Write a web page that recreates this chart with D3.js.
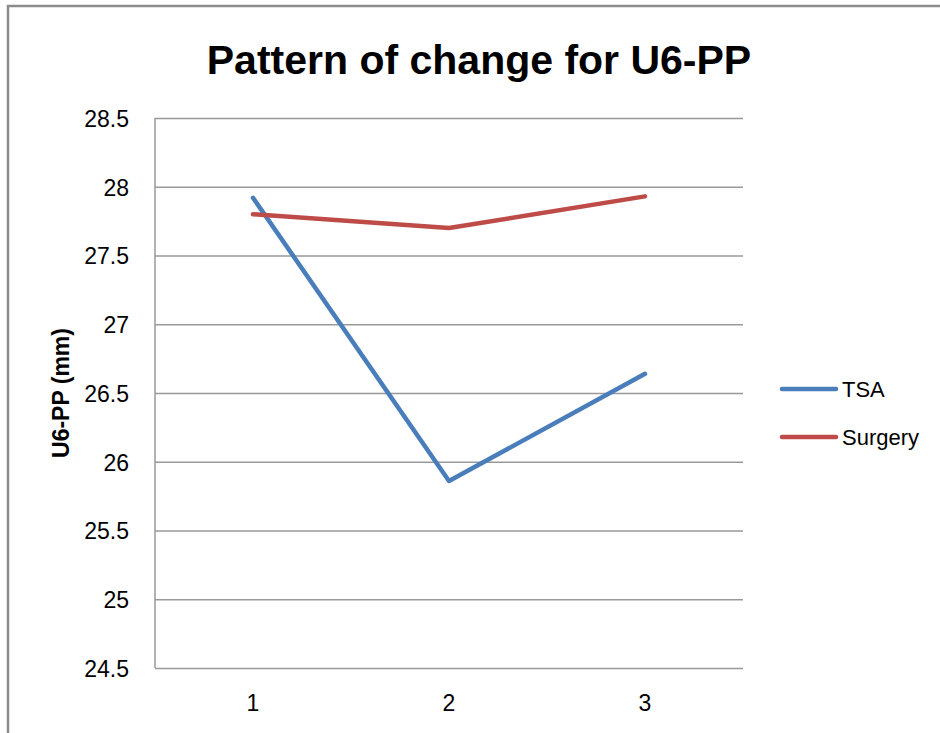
<!DOCTYPE html>
<html lang="en">
<head>
  <meta charset="UTF-8">
  <title>Pattern of change for U6-PP</title>
  <script src="https://d3js.org/d3.v7.min.js"></script>
  <style type="text/css">
    body { margin: 0; background: #fff; }
    text { font-family: "Liberation Sans", Arial, sans-serif; fill: #000; }
    .grid line { stroke: #999; stroke-width: 1.5; }
  </style>
</head>
<body>
<div id="chart-container"></div>
<script>
// data
const categories = ["1", "2", "3"];
const seriesNames = ["TSA", "Surgery"];
const tsaValues = [27.92, 25.86, 26.64];
const surgeryValues = [27.80, 27.70, 27.93];
const yTicks = [24.5, 25, 25.5, 26, 26.5, 27, 27.5, 28, 28.5];
const colors = ["#4A7EBB", "#BE4B48"];

const series = [
  { name: seriesNames[0], values: tsaValues, color: colors[0] },
  { name: seriesNames[1], values: surgeryValues, color: colors[1] }
];

const width = 940, height = 733;
const plot = { left: 155, right: 743, top: 118, bottom: 668 };

const svg = d3.select("#chart-container")
  .append("svg")
  .attr("width", width)
  .attr("height", height);

// outer chart frame
svg.append("rect")
  .attr("x", 8).attr("y", 6)
  .attr("width", 960).attr("height", 760)
  .attr("fill", "none")
  .attr("stroke", "#8c8c8c")
  .attr("stroke-width", 2.5);

var xScale = d3.scalePoint()
  .domain(categories)
  .range([plot.left, plot.right])
  .padding(0.5);

var yScale = d3.scaleLinear()
  .domain([24.5, 28.5])
  .range([plot.bottom, plot.top]);

// horizontal gridlines + y labels
const yAxis = d3.axisLeft(yScale)
  .tickValues(yTicks)
  .tickSize(-(plot.right - plot.left))
  .tickPadding(26)
  .tickFormat(d => d);

svg.append("g")
  .attr("class", "grid")
  .attr("transform", `translate(${plot.left},0)`)
  .call(yAxis)
  .call(g => g.select(".domain").remove())
  .call(g => g.selectAll("text").attr("font-size", 23).attr("dy", "0.36em")
    .style("font-family", "Liberation Sans"));

// left axis line
svg.append("line")
  .attr("x1", plot.left).attr("x2", plot.left)
  .attr("y1", plot.top).attr("y2", plot.bottom)
  .attr("stroke", "#999").attr("stroke-width", 1.5);

// x labels
svg.selectAll(".x-label")
  .data(categories)
  .enter()
  .append("text")
  .attr("class", "x-label")
  .attr("x", d => xScale(d))
  .attr("y", 711)
  .attr("text-anchor", "middle")
  .attr("font-size", 23)
  .text(d => d);

// lines
const line = d3.line()
  .x((d, i) => xScale(categories[i]))
  .y(d => yScale(d));

svg.selectAll(".series")
  .data(series)
  .enter()
  .append("path")
  .attr("class", "series")
  .attr("d", d => line(d.values))
  .attr("fill", "none")
  .attr("stroke", d => d.color)
  .attr("stroke-width", 4.5)
  .attr("stroke-linecap", "round")
  .attr("stroke-linejoin", "round");

// title
svg.append("text")
  .attr("x", 479)
  .attr("y", 74)
  .attr("text-anchor", "middle")
  .attr("font-size", 41)
  .attr("font-weight", "bold")
  .text("Pattern of change for U6-PP");

// y axis title
svg.append("text")
  .attr("transform", "translate(69,393) rotate(-90)")
  .attr("text-anchor", "middle")
  .attr("font-size", 23)
  .attr("font-weight", "bold")
  .text("U6-PP (mm)");

// legend
const legend = svg.selectAll(".legend")
  .data(series)
  .enter()
  .append("g")
  .attr("class", "legend")
  .attr("transform", (d, i) => `translate(782,${389 + i * 48})`);

legend.append("line")
  .attr("x1", 0).attr("x2", 54)
  .attr("stroke", d => d.color)
  .attr("stroke-width", 4.5)
  .attr("stroke-linecap", "round");

legend.append("text")
  .attr("x", 60)
  .attr("dy", "0.36em")
  .attr("font-size", 22)
  .text(d => d.name);
</script>
</body>
</html>
